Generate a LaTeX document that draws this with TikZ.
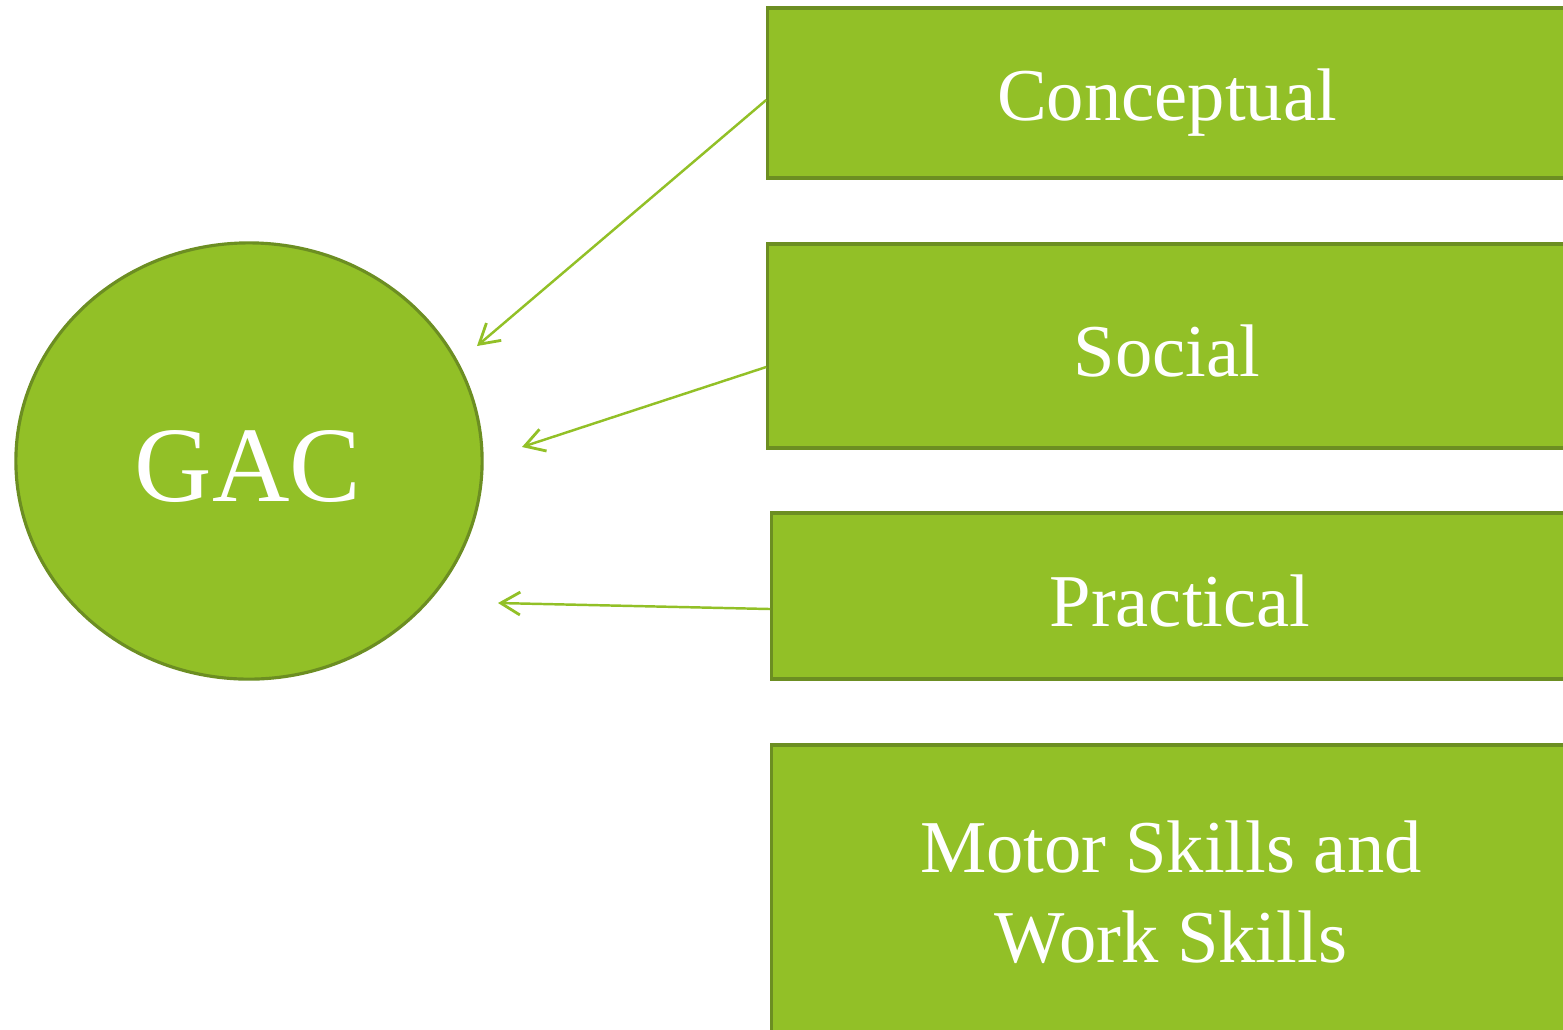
\documentclass[tikz,border=0pt]{standalone}
\usepackage{fontspec}
\setmainfont{Liberation Serif}
\usetikzlibrary{shapes.geometric,arrows.meta}
\definecolor{leaf}{RGB}{146,192,39}
\definecolor{leafdark}{RGB}{108,142,34}
\begin{document}
\begin{tikzpicture}[
                x=0.01cm, y=-0.01cm,
                box/.style={rectangle, fill=leaf, draw=leafdark, line width=0.9pt, text=white, align=center, inner sep=0pt},  % Boxes for the kinds of skill
                blob/.style={ellipse, fill=leaf, draw=leafdark, line width=0.9pt, text=white, inner sep=0pt},
                lbl/.style={text=white, align=center, font=\fontsize{21.2}{25.6}\selectfont},
                link/.style={leaf, line width=0.7pt, -{Straight Barb[length=5.5pt, width=6.5pt, line width=0.8pt]}}
            ]
            % Page frame
            \useasboundingbox (0,0) rectangle (1563,1029);
            \clip (0,0) rectangle (1563,1029);

            % Central ellipse
            \node[blob, minimum width=4.66cm, minimum height=4.36cm] (gac) at (249,461) {};
            \node[text=white, font=\fontsize{30.5}{36}\selectfont] (gacT) at (248,466) {GAC};

            % The four boxes on the right
            \node[box, minimum width=7.98cm, minimum height=1.70cm] (concept) at (1167,93) {};
            \node[box, minimum width=7.98cm, minimum height=2.04cm] (social) at (1167,346) {};
            \node[box, minimum width=7.94cm, minimum height=1.66cm] (practical) at (1169,596) {};
            \node[box, minimum width=7.94cm, minimum height=2.90cm] (motor) at (1169,890) {};

            % Labels in the boxes
            \node[lbl] (conceptT) at (1167,103) {Conceptual};
            \node[lbl] (socialT) at (1167,351) {Social};
            \node[lbl] (practicalT) at (1180,601) {Practical};
            \node[lbl] (motorT) at (1171,892) {Motor Skills and\\Work Skills};

            % Arrow ends near the ellipse
            \coordinate (endA) at (477,346);
            \coordinate (endB) at (522,447);
            \coordinate (endC) at (498,603);

            % Arrows from the boxes
            \draw[link] ([yshift=-0.07cm]concept.west) -- (endA);
            \draw[link] ([yshift=-0.21cm]social.west) -- (endB);
            \draw[link] ([yshift=-0.13cm]practical.west) -- (endC);

        \end{tikzpicture}
\end{document}
